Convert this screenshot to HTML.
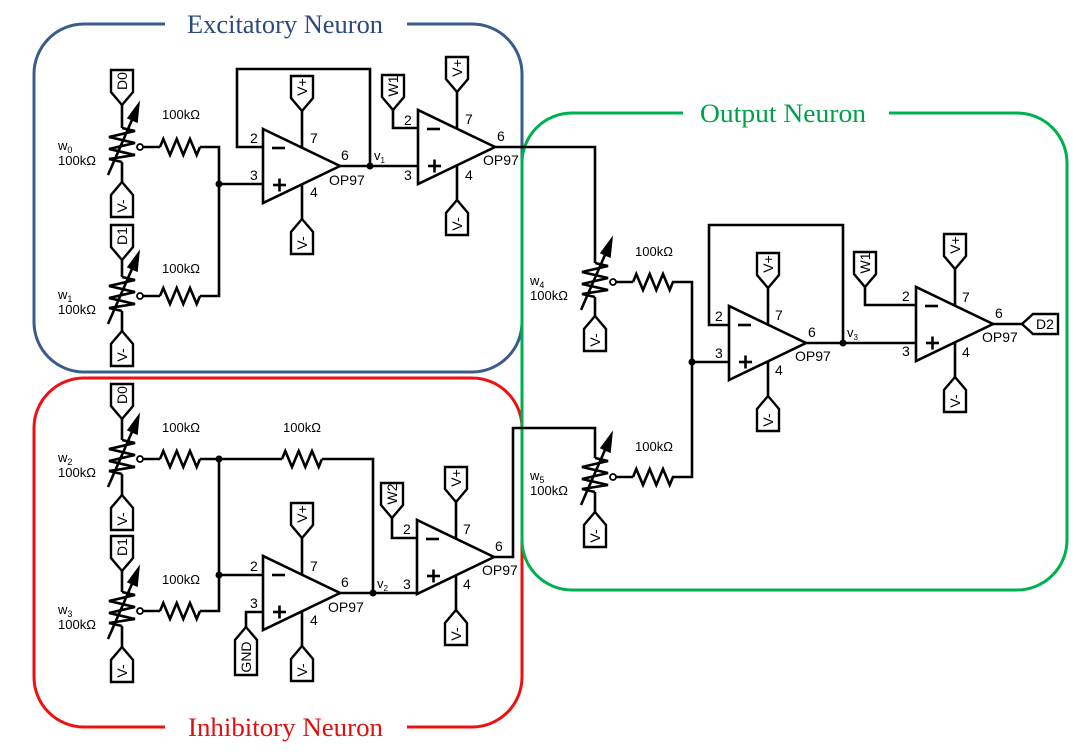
<!DOCTYPE html>
<html><head><meta charset="utf-8"><style>
html,body{margin:0;padding:0;background:#fff;}
svg{display:block;}
text{font-family:"Liberation Sans",Arial,sans-serif;font-size:13px;fill:#000;}
.p text{font-size:14px;}
.t{font-family:"Liberation Serif",serif;font-size:26px;}
</style></head><body>
<svg width="1086" height="755" viewBox="0 0 1086 755" xmlns="http://www.w3.org/2000/svg">
<defs>
<g id="oa"><polygon points="0,-37 0,37 77,0" fill="#fff" stroke="#000" stroke-width="2.6"/>
<line x1="9" y1="-18" x2="22" y2="-18" stroke="#000" stroke-width="2.6"/>
<line x1="10" y1="19" x2="23" y2="19" stroke="#000" stroke-width="2.6"/>
<line x1="16.5" y1="12.5" x2="16.5" y2="25.5" stroke="#000" stroke-width="2.6"/>
<line x1="39" y1="-18" x2="39" y2="-55" stroke="#000" stroke-width="2.6"/>
<line x1="39" y1="18" x2="39" y2="53" stroke="#000" stroke-width="2.6"/></g>
<polygon id="pd" points="-11,0 11,0 11,22 0,35 -11,22" fill="#fff" stroke="#000" stroke-width="2.4"/>
<polygon id="pu" points="0,0 11,13 11,35 -11,35 -11,13" fill="#fff" stroke="#000" stroke-width="2.4"/>
<polyline id="res" points="0,0 3.3,-8 10,8 16.7,-8 23.3,8 30,-8 36.7,8 40,0" fill="none" stroke="#000" stroke-width="2.6" stroke-linejoin="miter"/>
<g id="pot"><polyline points="0,-19 13,-16 -13,-10 13,-4 -13,2 13,8 -13,12 0,15" fill="none" stroke="#000" stroke-width="2.6"/>
<line x1="-14" y1="28" x2="13" y2="-34" stroke="#000" stroke-width="2.6"/>
<polygon points="17,-44 15,-25 6,-29" fill="#000" stroke="#000" stroke-width="1.5"/>
<line x1="21" y1="0" x2="38" y2="0" stroke="#000" stroke-width="2.6"/>
<circle cx="18" cy="0" r="3" fill="#fff" stroke="#000" stroke-width="1.8"/>
<use href="#res" x="38" y="0"/></g>
</defs>

<rect x="34" y="24" width="488" height="348" rx="50" fill="none" stroke="#3a5b8c" stroke-width="3"/>
<rect x="34" y="378" width="488" height="349" rx="50" fill="none" stroke="#ee1111" stroke-width="3"/>
<rect x="522" y="113" width="545" height="477" rx="50" fill="none" stroke="#00b04f" stroke-width="3"/>
<rect x="165" y="10" width="242" height="28" fill="#fff"/>
<rect x="165" y="714" width="242" height="28" fill="#fff"/>
<rect x="683" y="100" width="206" height="28" fill="#fff"/>
<text class="t" x="187" y="33" textLength="196" lengthAdjust="spacingAndGlyphs" style="fill:#2c4a7c">Excitatory Neuron</text>
<text class="t" x="188" y="736" textLength="195" lengthAdjust="spacingAndGlyphs" style="fill:#e01010">Inhibitory Neuron</text>
<text class="t" x="700" y="122" textLength="166" lengthAdjust="spacingAndGlyphs" style="fill:#00a04a">Output Neuron</text>

<g stroke="#000" stroke-width="2.6" fill="none">
<polyline points="122,105 122,128"/><polyline points="122,162 122,182"/>
<polyline points="122,260 122,277"/><polyline points="122,311 122,331"/>
<polyline points="200,147 219,147 219,296 200,296"/>
<polyline points="219,184 263,184"/>
<polyline points="263,147 237,147 237,69 370,69 370,166"/>
<polyline points="340,166 418,166"/>
<polyline points="393,110 393,128 418,128"/>
<polyline points="495,147 595,147 595,263"/>
<polyline points="122,419 122,440"/><polyline points="122,474 122,495"/>
<polyline points="122,571 122,592"/><polyline points="122,626 122,647"/>
<polyline points="200,459 282,459"/><polyline points="322,459 373,459 373,593"/>
<polyline points="219,459 219,611 200,611"/>
<polyline points="219,575 263,575"/>
<polyline points="263,612 246,612 246,627"/>
<polyline points="340,593 417,593"/>
<polyline points="392,518 392,538 417,538"/>
<polyline points="494,557 513,557 513,428 595,428 595,458"/>
<polyline points="595,297 595,316"/><polyline points="595,492 595,512"/>
<polyline points="672,282 692,282 692,477 672,477"/>
<polyline points="692,362 729,362"/>
<polyline points="729,325 709,325 709,225 843,225 843,343"/>
<polyline points="806,343 916,343"/>
<polyline points="865,287 865,305 916,305"/>
<polyline points="993,324 1022,324"/>
</g>
<g fill="#000">
<circle cx="219" cy="184" r="3.5"/><circle cx="370" cy="166" r="3.5"/>
<circle cx="219" cy="459" r="3.5"/><circle cx="219" cy="575" r="3.5"/><circle cx="373" cy="593" r="3.5"/>
<circle cx="692" cy="362" r="3.5"/><circle cx="843" cy="343" r="3.5"/>
</g>
<use href="#res" x="282" y="459"/>

<use href="#pot" x="122" y="147"/><use href="#pot" x="122" y="296"/>
<use href="#pot" x="122" y="459"/><use href="#pot" x="122" y="611"/>
<use href="#pot" x="595" y="282"/><use href="#pot" x="595" y="477"/>

<use href="#oa" x="263" y="166"/><use href="#oa" x="418" y="147"/>
<use href="#oa" x="729" y="343"/><use href="#oa" x="916" y="324"/>
<use href="#oa" x="263" y="593"/><use href="#oa" x="417" y="557"/>

<use href="#pd" x="122" y="70"/><use href="#pd" x="122" y="225"/>
<use href="#pd" x="122" y="384"/><use href="#pd" x="122" y="536"/>
<use href="#pd" x="302" y="76"/><use href="#pd" x="457" y="57"/><use href="#pd" x="393" y="75"/>
<use href="#pd" x="768" y="253"/><use href="#pd" x="955" y="234"/><use href="#pd" x="865" y="252"/>
<use href="#pd" x="302" y="503"/><use href="#pd" x="456" y="467"/><use href="#pd" x="392" y="483"/>
<use href="#pu" x="122" y="182"/><use href="#pu" x="122" y="331"/>
<use href="#pu" x="122" y="495"/><use href="#pu" x="122" y="647"/>
<use href="#pu" x="595" y="316"/><use href="#pu" x="595" y="512"/>
<use href="#pu" x="302" y="219"/><use href="#pu" x="457" y="200"/>
<use href="#pu" x="768" y="396"/><use href="#pu" x="955" y="377"/>
<use href="#pu" x="302" y="646"/><use href="#pu" x="456" y="610"/>
<polygon points="246,627 257,640 257,675 235,675 235,640" fill="#fff" stroke="#000" stroke-width="2.4"/>
<polygon points="1022,324 1033,314 1058,314 1058,334 1033,334" fill="#fff" stroke="#000" stroke-width="2.4"/>

<g text-anchor="middle" class="p">
<text transform="translate(122,81) rotate(-90)" dy="5">D0</text>
<text transform="translate(122,236) rotate(-90)" dy="5">D1</text>
<text transform="translate(122,395) rotate(-90)" dy="5">D0</text>
<text transform="translate(122,547) rotate(-90)" dy="5">D1</text>
<text transform="translate(302,87) rotate(-90)" dy="5">V+</text>
<text transform="translate(457,68) rotate(-90)" dy="5">V+</text>
<text transform="translate(393,86) rotate(-90)" dy="5">W1</text>
<text transform="translate(768,264) rotate(-90)" dy="5">V+</text>
<text transform="translate(955,245) rotate(-90)" dy="5">V+</text>
<text transform="translate(865,263) rotate(-90)" dy="5">W1</text>
<text transform="translate(302,514) rotate(-90)" dy="5">V+</text>
<text transform="translate(456,478) rotate(-90)" dy="5">V+</text>
<text transform="translate(392,494) rotate(-90)" dy="5">W2</text>
<text transform="translate(122,206) rotate(-90)" dy="5">V-</text>
<text transform="translate(122,355) rotate(-90)" dy="5">V-</text>
<text transform="translate(122,519) rotate(-90)" dy="5">V-</text>
<text transform="translate(122,671) rotate(-90)" dy="5">V-</text>
<text transform="translate(595,340) rotate(-90)" dy="5">V-</text>
<text transform="translate(595,536) rotate(-90)" dy="5">V-</text>
<text transform="translate(302,243) rotate(-90)" dy="5">V-</text>
<text transform="translate(457,224) rotate(-90)" dy="5">V-</text>
<text transform="translate(768,420) rotate(-90)" dy="5">V-</text>
<text transform="translate(955,401) rotate(-90)" dy="5">V-</text>
<text transform="translate(302,670) rotate(-90)" dy="5">V-</text>
<text transform="translate(456,634) rotate(-90)" dy="5">V-</text>
<text transform="translate(246,657) rotate(-90)" dy="5">GND</text>
<text x="1045" y="329">D2</text>
</g>

<text x="58" y="150">w<tspan font-size="9" dy="3">0</tspan></text><text x="58" y="165">100kΩ</text>
<text x="58" y="299">w<tspan font-size="9" dy="3">1</tspan></text><text x="58" y="314">100kΩ</text>
<text x="58" y="462">w<tspan font-size="9" dy="3">2</tspan></text><text x="58" y="477">100kΩ</text>
<text x="58" y="614">w<tspan font-size="9" dy="3">3</tspan></text><text x="58" y="629">100kΩ</text>
<text x="530" y="285">w<tspan font-size="9" dy="3">4</tspan></text><text x="530" y="300">100kΩ</text>
<text x="530" y="480">w<tspan font-size="9" dy="3">5</tspan></text><text x="530" y="495">100kΩ</text>
<g text-anchor="middle">
<text x="181" y="119">100kΩ</text><text x="181" y="273">100kΩ</text>
<text x="181" y="432">100kΩ</text><text x="181" y="584">100kΩ</text>
<text x="302" y="432">100kΩ</text>
<text x="654" y="256">100kΩ</text><text x="654" y="451">100kΩ</text>
</g>
<text x="374" y="160">v<tspan font-size="8" dy="3">1</tspan></text>
<text x="377" y="588">v<tspan font-size="8" dy="3">2</tspan></text>
<text x="847" y="337">v<tspan font-size="8" dy="3">3</tspan></text>

<g class="p">
<text x="250" y="143">2</text><text x="250" y="180">3</text><text x="310" y="143">7</text><text x="310" y="197">4</text><text x="341" y="160">6</text><text x="329" y="185">OP97</text>
<text x="404" y="125">2</text><text x="404" y="180">3</text><text x="465" y="124">7</text><text x="465" y="180">4</text><text x="497" y="141">6</text><text x="483" y="165">OP97</text>
<text x="715" y="321">2</text><text x="715" y="358">3</text><text x="775" y="320">7</text><text x="775" y="375">4</text><text x="808" y="337">6</text><text x="795" y="361">OP97</text>
<text x="902" y="301">2</text><text x="902" y="356">3</text><text x="962" y="302">7</text><text x="962" y="357">4</text><text x="995" y="318">6</text><text x="982" y="342">OP97</text>
<text x="250" y="571">2</text><text x="250" y="608">3</text><text x="310" y="571">7</text><text x="310" y="625">4</text><text x="341" y="587">6</text><text x="328" y="612">OP97</text>
<text x="403" y="534">2</text><text x="403" y="589">3</text><text x="463" y="534">7</text><text x="463" y="589">4</text><text x="495" y="551">6</text><text x="482" y="575">OP97</text>
</g>
</svg>
</body></html>
